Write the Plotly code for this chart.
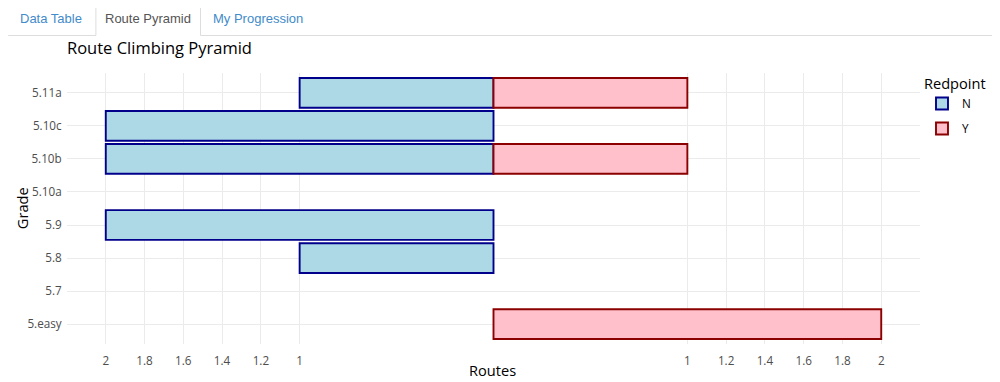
import plotly.graph_objects as go

# ---- data ----
grades = ["5.easy", "5.7", "5.8", "5.9", "5.10a", "5.10b", "5.10c", "5.11a"]
not_redpoint = [0, 0, 1, 2, 0, 2, 2, 1]   # Redpoint = N (drawn to the left)
redpoint = [2, 0, 0, 0, 0, 1, 0, 1]       # Redpoint = Y (drawn to the right)
x_tickvals = [-2, -1.8, -1.6, -1.4, -1.2, -1, 1, 1.2, 1.4, 1.6, 1.8, 2]
x_ticktext = ["2", "1.8", "1.6", "1.4", "1.2", "1", "1", "1.2", "1.4", "1.6", "1.8", "2"]
tabs = ["Data Table", "Route Pyramid", "My Progression"]

# ---- layout geometry (page pixels; the page body has an 8px margin) ----
OFF = 8
PAGE_W, PAGE_H = 1000, 382
W, H = PAGE_W - OFF, PAGE_H - OFF
L, R, T, B = 67, 923, 73, 344


def px(x):
    return (x - L) / (R - L)


def py(y):
    return (B - y) / (B - T)


fig = go.Figure()
fig.add_trace(go.Bar(
    y=grades, x=[-v if v else None for v in not_redpoint], orientation="h",
    name="N", width=0.9, legendgroup="N",
    marker=dict(color="#ADD8E6", line=dict(color="#00008B", width=1.9)),
))
fig.add_trace(go.Bar(
    y=grades, x=[v if v else None for v in redpoint], orientation="h",
    name="Y", width=0.9, legendgroup="Y",
    marker=dict(color="#FFC0CB", line=dict(color="#8B0000", width=1.9)),
))

font = "Open Sans, Liberation Sans, sans-serif"
fig.update_layout(
    width=W, height=H, autosize=False,
    margin=dict(l=L - OFF, r=PAGE_W - R, t=T - OFF, b=PAGE_H - B, pad=0),
    barmode="relative",
    plot_bgcolor="white", paper_bgcolor="white",
    font=dict(family=font, color="black"),
    xaxis=dict(range=[-2.2, 2.2], tickmode="array", tickvals=x_tickvals, ticktext=x_ticktext,
               showgrid=True, gridcolor="#EBEBEB", gridwidth=1, zeroline=False,
               ticks="outside", ticklen=6, tickcolor="rgba(0,0,0,0)",
               tickfont=dict(size=11.7, color="rgb(77,77,77)"),
               showline=False, fixedrange=True),
    yaxis=dict(type="category", categoryorder="array", categoryarray=grades,
               range=[-0.6, 7.6], showgrid=True, gridcolor="#EBEBEB", gridwidth=1,
               ticks="outside", ticklen=2, tickcolor="rgba(0,0,0,0)",
               tickfont=dict(size=11.7, color="rgb(77,77,77)"),
               showline=False, fixedrange=True),
    legend=dict(x=px(925), y=py(70), xanchor="left", yanchor="top",
                title=dict(text="Redpoint", font=dict(size=14.6)),
                font=dict(size=11.7), bgcolor="white", borderwidth=0,
                traceorder="grouped", tracegroupgap=6),
    showlegend=True,
)

# title and axis titles
fig.add_annotation(text="Route Climbing Pyramid", xref="paper", yref="paper",
                   x=px(65), y=py(48), xanchor="left", yanchor="middle", showarrow=False,
                   font=dict(size=16.5, color="black", family=font))
fig.add_annotation(text="Routes", xref="paper", yref="paper",
                   x=px(494), y=py(370), xanchor="center", yanchor="middle", showarrow=False,
                   font=dict(size=14.6, color="black", family=font))
fig.add_annotation(text="Grade", xref="paper", yref="paper", textangle=-90,
                   x=px(22), y=py(208), xanchor="center", yanchor="middle", showarrow=False,
                   font=dict(size=14.6, color="black", family=font))

# ---- tab bar drawn above the chart ----
line_col = "#DDDDDD"
y_base = 35.5
fig.add_shape(type="line", xref="paper", yref="paper",
              x0=px(8), x1=px(96), y0=py(y_base), y1=py(y_base),
              line=dict(color=line_col, width=1))
fig.add_shape(type="line", xref="paper", yref="paper",
              x0=px(201), x1=px(1000), y0=py(y_base), y1=py(y_base),
              line=dict(color=line_col, width=1))
lx, rx, ty, r = 96, 201, 1.5, 4
path = (f"M {px(lx)},{py(y_base)} L {px(lx)},{py(ty + r)} "
        f"Q {px(lx)},{py(ty)} {px(lx + r)},{py(ty)} "
        f"L {px(rx - r)},{py(ty)} Q {px(rx)},{py(ty)} {px(rx)},{py(ty + r)} "
        f"L {px(rx)},{py(y_base)}")
fig.add_shape(type="path", xref="paper", yref="paper", path=path,
              line=dict(color=line_col, width=1))

tab_centers = [51, 148.5, 259]
tab_colors = ["#428BCA", "#555555", "#428BCA"]
for label, cx, col in zip(tabs, tab_centers, tab_colors):
    fig.add_annotation(text=label, xref="paper", yref="paper", x=px(cx), y=py(18),
                       xanchor="center", yanchor="middle", showarrow=False,
                       font=dict(family="Liberation Sans, Arial, sans-serif", size=13, color=col))

fig.write_html("out.html")
